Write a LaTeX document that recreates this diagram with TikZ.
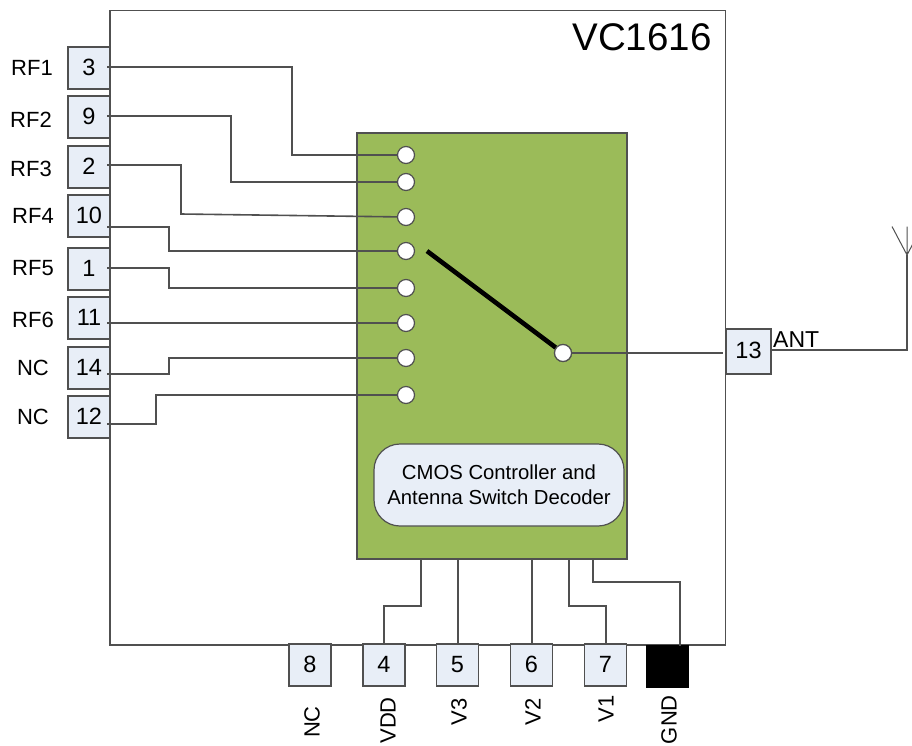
\documentclass[tikz,border=0pt]{standalone}
\usepackage{fontspec}
\setmainfont{Liberation Sans}
\definecolor{wire}{HTML}{505050}
\definecolor{chip}{HTML}{9BBB59}
\definecolor{pinfill}{HTML}{E8EEF7}
\tikzset{
  x=1pt,y=-1pt,
  frame/.style={draw=wire,line width=1.4pt,fill=white},
  pinbox/.style={draw=wire,line width=1.2pt,fill=pinfill,minimum width=42pt,minimum height=42pt,inner sep=0pt,font=\fontsize{23.5}{25}\selectfont,text depth=1.5pt},
  gndbox/.style={draw=black,fill=black,minimum width=42pt,minimum height=42pt,inner sep=0pt},
  port/.style={circle,draw=wire,line width=1.2pt,fill=white,minimum size=17pt,inner sep=0pt},
  conn/.style={draw=wire,line width=1.6pt,line join=miter},
  sig/.style={font=\fontsize{22}{24}\selectfont,inner sep=0pt},
  vsig/.style={sig,rotate=90},
}
\begin{document}
\begin{tikzpicture}
\path[use as bounding box,clip] (0,0) rectangle (912,745);
\fill[white] (0,0) rectangle (912,745);
% package
\draw[frame] (110,10.5) rectangle (725.5,645);
\node[font=\fontsize{38.5}{42}\selectfont,inner sep=0pt] (title) at (642,37.5) {VC1616};
% die
\draw[draw=wire,line width=1.2pt,fill=chip] (357,133) rectangle (627,559);
\node[draw=wire,line width=1.2pt,fill=pinfill,rounded corners=26pt,minimum width=250pt,minimum height=82pt,inner sep=0pt,align=center,font=\fontsize{20.3}{25}\selectfont] (dec) at (499,485) {CMOS Controller and\\Antenna Switch Decoder};
% left pins
\node[pinbox] (p3)  at (89,68)   {3};
\node[pinbox] (p9)  at (89,117)  {9};
\node[pinbox] (p2)  at (89,167)  {2};
\node[pinbox] (p10) at (89,216)  {10};
\node[pinbox] (p1)  at (89,269)  {1};
\node[pinbox] (p11) at (89,318)  {11};
\node[pinbox] (p14) at (89,368)  {14};
\node[pinbox] (p12) at (89,417)  {12};
% left labels
\node[sig] (l1) at (32,68)  {RF1};
\node[sig] (l2) at (31,120) {RF2};
\node[sig] (l3) at (31,169) {RF3};
\node[sig] (l4) at (33,216) {RF4};
\node[sig] (l5) at (33,268) {RF5};
\node[sig] (l6) at (33,320) {RF6};
\node[sig] (l7) at (33,368) {NC};
\node[sig] (l8) at (33,417) {NC};
% throws
\node[port] (c1) at (406,155) {};
\node[port] (c2) at (406,182) {};
\node[port] (c3) at (406,217) {};
\node[port] (c4) at (406,251) {};
\node[port] (c5) at (406,288) {};
\node[port] (c6) at (406,323) {};
\node[port] (c7) at (406,358) {};
\node[port] (c8) at (406,395) {};
\node[port] (com) at (563,353)  {};
% wire ends
\coordinate (w3)  at (107,67);
\coordinate (w9)  at (107,116);
\coordinate (w2)  at (107,165);
\coordinate (w10) at (107,227);
\coordinate (w1)  at (107,268);
\coordinate (w11) at (107,323);
\coordinate (w14) at (107,374);
\coordinate (w12) at (107,424);
\draw[conn] (w3)  -- (292,67)  |- (c1);
\draw[conn] (w9)  -- (231,116) |- (c2);
\draw[conn] (w2)  -- (181,165) -- (181,214) -- (c3);
\draw[conn] (w10) -- (169,227) |- (c4);
\draw[conn] (w1)  -- (169,268) |- (c5);
\draw[conn] (w11) -- (c6);
\draw[conn] (w14) -- (169,374) |- (c7);
\draw[conn] (w12) -- (156,424) |- (c8);
% switch arm
\coordinate (arm) at (427,251);
\draw[line width=4.6pt] (arm) -- (com);
\node[port] at (com) {};
% antenna pin
\node[pinbox,minimum width=45pt,minimum height=45pt] (p13) at (748.5,351.5) {13};
\coordinate (w13) at (723,353);
\draw[conn] (com) -- (w13);
\node[sig,anchor=base west,font=\fontsize{23}{25}\selectfont] (ant) at (773,347) {ANT};
\coordinate (ws) at (772,350);
\coordinate (feed) at (907,255);
\coordinate (tipL) at (892,226.5);
\coordinate (tipM) at (907,226.5);
\coordinate (tipR) at (922,226.5);
\draw[conn] (ws) -- (907,350) -- (feed);
\draw[draw=wire,line width=1pt] (tipL) -- (feed) -- (tipR) (feed) -- (tipM);
% bottom pins
\node[pinbox] (p8) at (310,665) {8};
\node[pinbox] (p4) at (384,665) {4};
\node[pinbox] (p5) at (457.5,665) {5};
\node[pinbox] (p6) at (531.5,665) {6};
\node[pinbox] (p7) at (605.5,665) {7};
\node[gndbox] (pg) at (667,666.5) {};
% bottom wires
\coordinate (d4) at (421,558);
\coordinate (d5) at (458,558);
\coordinate (d6) at (532,558);
\coordinate (d7) at (569,558);
\coordinate (dg) at (593,558);
\draw[conn] (d4) -- (421,606) -- (384,606) -- (p4.north);
\draw[conn] (d5) -- (458,644);
\draw[conn] (d6) -- (532,644);
\draw[conn] (d7) -- (569,606) -- (606,606) -- (606,644);
\draw[conn] (dg) -- (593,582) -- (680,582) -- (680,646);
% bottom labels
\node[vsig] (b8) at (312,722) {NC};
\node[vsig,anchor=east] (b4) at (388,697) {VDD};
\node[vsig] (b5) at (459,712) {V3};
\node[vsig] (b6) at (533,712) {V2};
\node[vsig] (b7) at (606,709) {V1};
\node[vsig,anchor=east] (b9) at (669,695) {GND};
\end{tikzpicture}
\end{document}
